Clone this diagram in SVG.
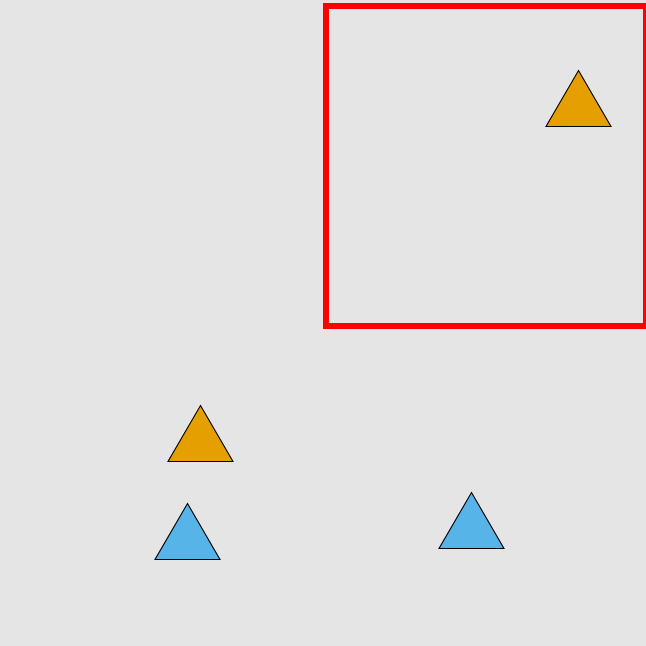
<svg xmlns="http://www.w3.org/2000/svg" width="646" height="646" viewBox="0 0 646 646">
<style>
.tri{stroke:#000;stroke-width:1.1;stroke-linejoin:miter}
.o{fill:#E69F00}
.b{fill:#56B4E9}
</style>
<rect x="0" y="0" width="646" height="646" fill="#E5E5E5"/>
<rect id="frame" x="326" y="6" width="320" height="320" fill="none" stroke="#FF0000" stroke-width="6"/>
<g id="tri-orange-top"><polygon class="tri o" points="578.5,70.5 611,126.5 546,126.5"/></g>
<g id="tri-orange-bottom"><polygon class="tri o" points="200.5,405.5 233,461.5 168,461.5"/></g>
<g id="tri-blue-left"><polygon class="tri b" points="187.5,503.5 220,559.5 155,559.5"/></g>
<g id="tri-blue-right"><polygon class="tri b" points="471.5,492.5 504,548.5 439,548.5"/></g>
</svg>
